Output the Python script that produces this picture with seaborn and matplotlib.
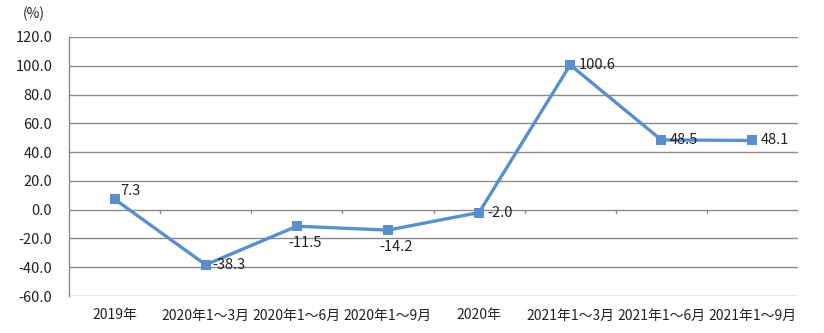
import matplotlib
matplotlib.use("Agg")
import matplotlib.pyplot as plt
import seaborn as sns
import pandas as pd
import numpy as np

categories = ["2019年", "2020年1～3月", "2020年1～6月", "2020年1～9月",
              "2020年", "2021年1～3月", "2021年1～6月", "2021年1～9月"]
values = [7.3, -38.3, -11.5, -14.2, -2.0, 100.6, 48.5, 48.1]
yticks = [-60, -40, -20, 0, 20, 40, 60, 80, 100, 120]

sns.set_theme(style="white")
plt.rcParams['font.family'] = ['Noto Sans CJK SC', 'DejaVu Sans']

df = pd.DataFrame({"x": np.arange(len(categories)), "y": values})
color = "#5B8FC9"
grid_c = "#8A8A8A"
text_c = "#222222"

fig = plt.figure(figsize=(8.24, 3.33), dpi=100)
ax = fig.add_axes([69/824, 1-296/333, (798-69)/824, (296-37)/333])

for t in yticks:
    ax.axhline(t, color=grid_c, lw=1.0, zorder=1)

sns.lineplot(data=df, x="x", y="y", ax=ax, color=color, lw=2.4,
             marker="s", markersize=6.5, markeredgewidth=0, zorder=3)

# category boundary ticks on the zero line
for i in range(1, len(categories)+1):
    ax.plot([i-0.5, i-0.5], [0, -2.5], color=grid_c, lw=1.0, zorder=1)

offsets = [(4, 1, 'left', 'bottom'), (5, 0, 'left', 'center'),
           (-6, -7, 'left', 'top'), (-6, -7, 'left', 'top'),
           (6, 0, 'left', 'center'), (6, 0, 'left', 'center'),
           (6, 0, 'left', 'center'), (6, 0, 'left', 'center')]
for xi, v, (dx, dy, ha, va) in zip(df["x"], values, offsets):
    ax.annotate(f"{v:.1f}", (xi, v), xytext=(dx, dy), textcoords="offset points",
                ha=ha, va=va, fontsize=10.5, color=text_c, zorder=4)

ax.set_xlim(-0.5, len(categories)-0.5)
ax.set_ylim(-60, 120)
ax.set_yticks(yticks)
ax.set_yticklabels([f"{t:.1f}" for t in yticks], fontsize=10.5, color=text_c)
ax.set_xticks(range(len(categories)))
ax.set_xticklabels(categories, fontsize=10, color=text_c)
ax.tick_params(axis='y', length=4, width=1.0, color=grid_c, pad=8)
ax.tick_params(axis='x', length=0, pad=9)
for s in ["top", "right", "bottom"]:
    ax.spines[s].set_visible(False)
ax.spines["left"].set_color(grid_c)
ax.spines["left"].set_linewidth(1.0)
ax.set_xlabel("")
ax.set_ylabel("")
fig.text(23/824, 1-14/333, "(%)", fontsize=10, color=text_c, va="center", ha="left")

fig.savefig("out.png", dpi=100)
